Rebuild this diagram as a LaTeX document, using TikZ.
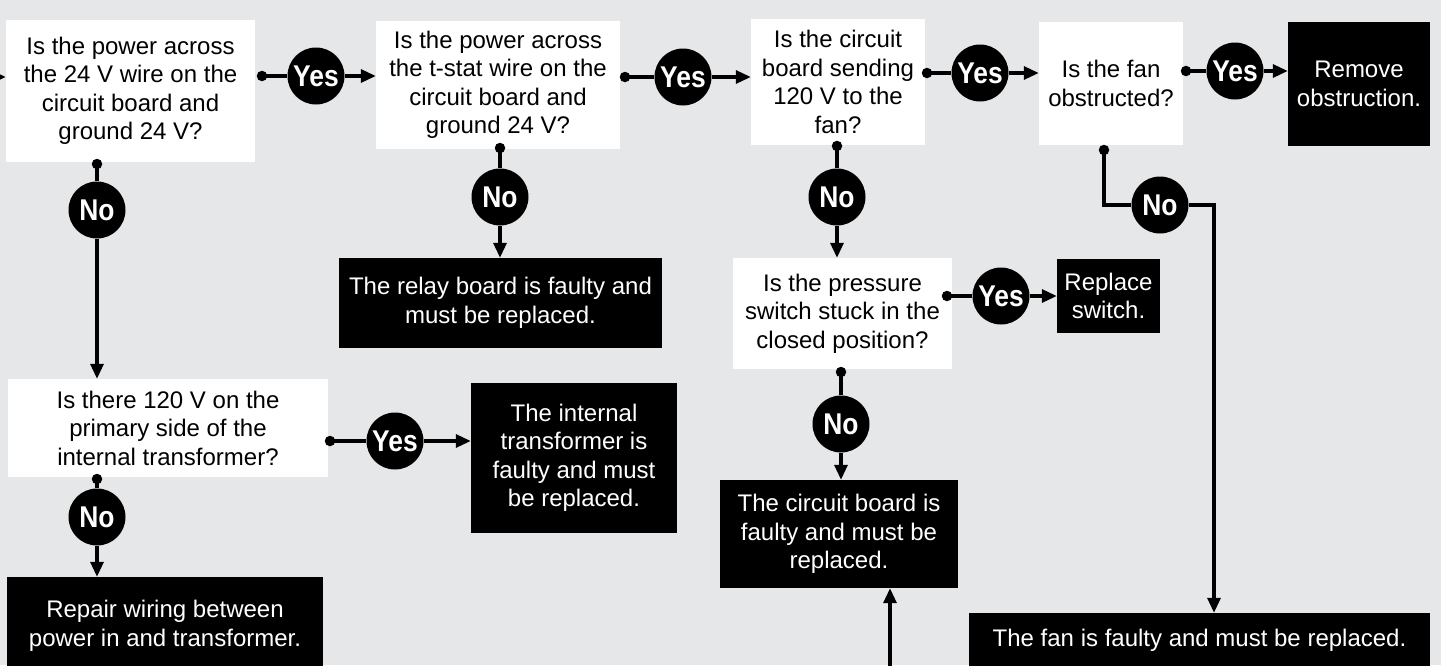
\documentclass[tikz,border=0pt]{standalone}
\usepackage{fontspec}
\setmainfont{Liberation Sans}
\newfontfamily\badgefont[FakeStretch=0.88]{Liberation Sans}
\usetikzlibrary{arrows.meta}
\definecolor{bg}{HTML}{E6E7E8}
\definecolor{ink}{HTML}{000000}
\begin{document}
\begin{tikzpicture}[x=1pt,y=-1pt,
  q/.style={fill=white, text=ink, inner sep=0pt, align=center, font=\fontsize{24}{28.5}\selectfont},
  ans/.style={fill=ink, text=white, inner sep=0pt, align=center, font=\fontsize{24}{28.5}\selectfont},
  badge/.style={circle, fill=ink, text=white, minimum size=57pt, inner sep=0pt, font=\badgefont\bfseries\fontsize{30}{30}\selectfont},
  conn/.style={line width=3.2pt, draw=ink},
  arr/.style={conn, -{Triangle[length=15pt,width=13pt]}},
  dot/.style={circle, fill=ink, inner sep=0pt, minimum size=10.5pt}
]
\fill[bg] (0,0) rectangle (1441,665);
\useasboundingbox (0,0) rectangle (1441,665);

% question boxes
\node[q, minimum width=249pt, minimum height=142pt] (q1) at (130.5,91) {Is the power across\\the 24 V wire on the\\circuit board and\\ground 24 V?};
\node[q, minimum width=244pt, minimum height=128pt] (q2) at (498,85) {Is the power across\\the t-stat wire on the\\circuit board and\\ground 24 V?};
\node[q, minimum width=174pt, minimum height=126pt] (q4) at (838,82) {Is the circuit\\board sending\\120 V to the\\fan?};
\node[q, minimum width=144pt, minimum height=123pt] (q5) at (1111,83.5) {Is the fan\\obstructed?};
\node[q, minimum width=219pt, minimum height=111pt] (q6) at (842.5,313.5) {Is the pressure\\switch stuck in the\\closed position?};
\node[q, minimum width=320pt, minimum height=98pt] (q3) at (168,428) {Is there 120 V on the\\primary side of the\\internal transformer?};

% answer boxes
\node[ans, minimum width=142pt, minimum height=124pt] (rem) at (1359,84) {Remove\\obstruction.};
\node[ans, minimum width=323pt, minimum height=90pt] (relay) at (500.5,303) {The relay board is faulty and\\must be replaced.};
\node[ans, minimum width=103pt, minimum height=74pt] (repl) at (1108.5,296) {Replace\\switch.};
\node[ans, minimum width=238pt, minimum height=108pt] (circ) at (839,534) {The circuit board is\\faulty and must be\\replaced.};
\node[ans, minimum width=206pt, minimum height=150pt] (trans) at (574,458) {The internal\\transformer is\\faulty and must\\be replaced.};
\node[ans, minimum width=316pt, minimum height=98pt] (repair) at (165,626) {Repair wiring between\\power in and transformer.};
\node[ans, minimum width=461pt, minimum height=54pt] (fan) at (1199.5,640) {The fan is faulty and must be replaced.};

% badges
\node[badge] (y1) at (316,76) {Yes};
\node[badge] (y2) at (683,77) {Yes};
\node[badge] (y3) at (980,73) {Yes};
\node[badge] (y4) at (1235,71) {Yes};
\node[badge] (y5) at (1001,296) {Yes};
\node[badge] (y6) at (395,441) {Yes};
\node[badge] (n1) at (97,210) {No};
\node[badge] (n2) at (500,197) {No};
\node[badge] (n3) at (837,197) {No};
\node[badge] (n4) at (1160,205) {No};
\node[badge] (n5) at (841,424) {No};
\node[badge] (n6) at (97,517) {No};

% dots
\node[dot] (d1) at (262,76) {};
\node[dot] (d2) at (625,77) {};
\node[dot] (d3) at (927,73) {};
\node[dot] (d4) at (1186,71) {};
\node[dot] (d5) at (947,296) {};
\node[dot] (d6) at (330,441) {};
\node[dot] (e1) at (97,164) {};
\node[dot] (e2) at (500,148) {};
\node[dot] (e3) at (837,146) {};
\node[dot] (e4) at (1104,150) {};
\node[dot] (e5) at (841,372) {};
\node[dot] (e6) at (97,479) {};

\coordinate (in) at (-5,77);
\coordinate (c4) at (1214,205);
\coordinate (bot) at (890,670);

% incoming
\draw[arr] (in) -- (in -| q1.west);

% yes branches
\draw[conn] (d1.center) -- (y1);
\draw[arr] (y1) -- (y1 -| q2.west);
\draw[conn] (d2.center) -- (y2);
\draw[arr] (y2) -- (y2 -| q4.west);
\draw[conn] (d3.center) -- (y3);
\draw[arr] (y3) -- (y3 -| q5.west);
\draw[conn] (d4.center) -- (y4);
\draw[arr] (y4) -- (y4 -| rem.west);
\draw[conn] (d5.center) -- (y5);
\draw[arr] (y5) -- (y5 -| repl.west);
\draw[conn] (d6.center) -- (y6);
\draw[arr] (y6) -- (y6 -| trans.west);

% no branches
\draw[conn] (e1.center) -- (n1);
\draw[arr] (n1) -- (n1 |- q3.north);
\draw[conn] (e2.center) -- (n2);
\draw[arr] (n2) -- (n2 |- relay.north);
\draw[conn] (e3.center) -- (n3);
\draw[arr] (n3) -- (n3 |- q6.north);
\draw[conn] (e5.center) -- (n5);
\draw[arr] (n5) -- (n5 |- circ.north);
\draw[conn] (e6.center) -- (n6);
\draw[arr] (n6) -- (n6 |- repair.north);
\draw[conn] (e4.center) |- (n4);
\draw[arr] (n4) -| (c4 |- fan.north);

% from below
\draw[arr] (bot) -- (bot |- circ.south);
\end{tikzpicture}
\end{document}
